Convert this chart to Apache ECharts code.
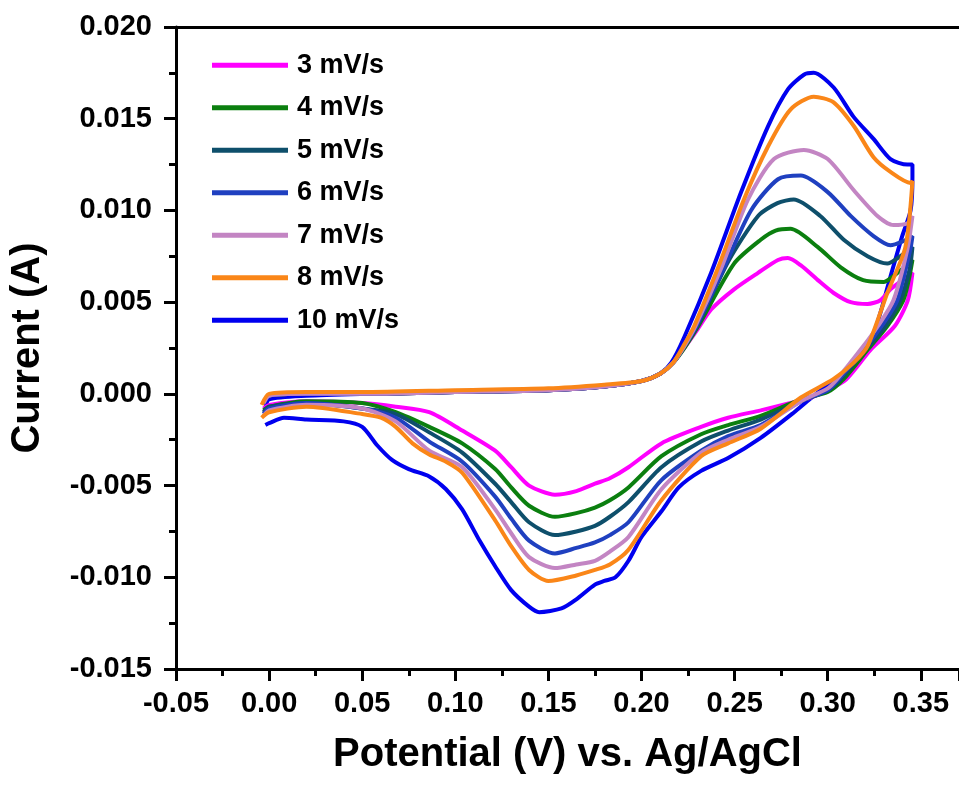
<!DOCTYPE html>
<html>
<head>
<meta charset="utf-8">
<script src="https://cdn.jsdelivr.net/npm/echarts@6/dist/echarts.min.js"></script>
<style>
html,body{margin:0;padding:0;background:#fff;}
#chart{width:959px;height:787px;}
</style>
</head>
<body>
<div id="chart"></div>
<script>
// Series names (legend order) and colours
const seriesNames = ['3 mV/s', '4 mV/s', '5 mV/s', '6 mV/s', '7 mV/s', '8 mV/s', '10 mV/s'];
const seriesColors = ['#ff00ff', '#0b7f0f', '#0e4f6b', '#1f40c0', '#c385c3', '#fa8618', '#0000ef'];

// Axis ticks
const xTicks = { min: -0.05, max: 0.3705, interval: 0.05 };
const yTicks = { min: -0.015, max: 0.020, interval: 0.005 };

// [potential (V), current (A)] – forward scan then reverse scan
const cv3 = [
  [-0.003,-0.0005],[0.0,-0.0001],[0.02,0.0],[0.05,0.0],[0.10,0.0001],[0.15,0.0002],[0.18,0.0004],[0.20,0.0007],[0.21,0.0011],[0.217,0.0017],[0.223,0.0025],[0.230,0.0035],[0.2374,0.0046],[0.2497,0.0057],[0.2626,0.0066],[0.2733,0.0073],[0.2786,0.0074],[0.2856,0.0070],[0.2947,0.0062],[0.3032,0.0055],[0.3123,0.0050],[0.3214,0.0049],[0.3283,0.0051],[0.3337,0.0057],[0.340,0.0062],[0.3455,0.0066],
  [0.343,0.0051],[0.336,0.0037],[0.323,0.0024],[0.31,0.0008],[0.30,0.0002],[0.291,-0.0002],[0.28,-0.0005],[0.264,-0.0009],[0.2465,-0.0013],[0.232,-0.0018],[0.2107,-0.0027],[0.193,-0.0040],[0.183,-0.0046],[0.175,-0.0049],[0.165,-0.0053],[0.1535,-0.0055],[0.1396,-0.0050],[0.13,-0.0040],[0.1214,-0.0031],[0.1037,-0.0020],[0.086,-0.0010],[0.068,-0.0007],[0.05,-0.0005],[0.02,-0.0004],[0.0,-0.0006],[-0.003,-0.0008]
];
const cv4 = [
  [-0.003,-0.0005],[0.0,-0.0001],[0.02,0.0],[0.05,0.0],[0.10,0.0001],[0.15,0.0002],[0.18,0.0004],[0.20,0.0007],[0.21,0.0011],[0.217,0.0017],[0.223,0.0025],[0.2305,0.0037],[0.2497,0.0071],[0.264,0.0084],[0.272,0.0089],[0.280,0.0090],[0.2947,0.0080],[0.307,0.0069],[0.319,0.0062],[0.330,0.0061],[0.335,0.0064],[0.341,0.0069],[0.3455,0.0073],
  [0.3435,0.0062],[0.3406,0.0051],[0.332,0.0037],[0.3214,0.0024],[0.3085,0.0008],[0.30,0.0001],[0.2856,-0.0003],[0.264,-0.0012],[0.2465,-0.0017],[0.232,-0.0022],[0.2107,-0.0034],[0.193,-0.0051],[0.183,-0.0058],[0.175,-0.0062],[0.165,-0.0065],[0.1535,-0.0067],[0.1396,-0.0061],[0.13,-0.0051],[0.1214,-0.0041],[0.1037,-0.0027],[0.086,-0.0018],[0.068,-0.0010],[0.05,-0.0005],[0.02,-0.0004],[0.0,-0.0007],[-0.003,-0.0009]
];
const cv5 = [
  [-0.003,-0.0005],[0.0,-0.0001],[0.02,0.0],[0.05,0.0],[0.10,0.0001],[0.15,0.0002],[0.18,0.0004],[0.20,0.0007],[0.21,0.0011],[0.217,0.0017],[0.223,0.0026],[0.230,0.0037],[0.2465,0.0072],[0.2626,0.0097],[0.273,0.0104],[0.2818,0.0106],[0.296,0.0097],[0.3086,0.0084],[0.3214,0.0075],[0.332,0.0071],[0.339,0.0075],[0.3455,0.0080],
  [0.344,0.0068],[0.339,0.0051],[0.331,0.0037],[0.3203,0.0024],[0.307,0.0008],[0.30,0.0002],[0.2856,-0.0004],[0.264,-0.0014],[0.2465,-0.0020],[0.232,-0.0026],[0.2107,-0.0040],[0.193,-0.0059],[0.183,-0.0067],[0.175,-0.0072],[0.165,-0.0075],[0.1535,-0.0077],[0.1396,-0.0070],[0.13,-0.0059],[0.1214,-0.0049],[0.1037,-0.0032],[0.086,-0.0021],[0.068,-0.0011],[0.05,-0.0008],[0.02,-0.0005],[0.0,-0.0007],[-0.003,-0.0010]
];
const cv6 = [
  [-0.003,-0.0005],[0.0,-0.0001],[0.02,0.0],[0.05,0.0],[0.10,0.0001],[0.15,0.0002],[0.18,0.0004],[0.20,0.0007],[0.21,0.0011],[0.217,0.0017],[0.223,0.0026],[0.2295,0.0037],[0.2444,0.0069],[0.2588,0.0100],[0.2733,0.0117],[0.2856,0.0119],[0.30,0.0110],[0.3123,0.0097],[0.3246,0.0086],[0.3337,0.0081],[0.340,0.0083],[0.3455,0.0086],
  [0.3444,0.0079],[0.3374,0.0051],[0.329,0.0037],[0.3193,0.0024],[0.306,0.0008],[0.30,0.0002],[0.2856,-0.0004],[0.264,-0.0017],[0.2465,-0.0023],[0.232,-0.0031],[0.2107,-0.0047],[0.193,-0.0070],[0.183,-0.0077],[0.175,-0.0081],[0.165,-0.0084],[0.1535,-0.0087],[0.1396,-0.0080],[0.13,-0.0068],[0.1214,-0.0056],[0.1037,-0.0037],[0.086,-0.0026],[0.068,-0.0013],[0.05,-0.0008],[0.02,-0.0005],[0.0,-0.0008],[-0.003,-0.0011]
];
const cv7 = [
  [-0.003,-0.0005],[0.0,-0.0001],[0.02,0.0],[0.05,0.0],[0.10,0.0001],[0.15,0.0002],[0.18,0.0004],[0.20,0.0007],[0.21,0.0011],[0.217,0.0017],[0.223,0.0026],[0.229,0.0037],[0.243,0.0069],[0.2572,0.0106],[0.2711,0.0128],[0.2872,0.0133],[0.30,0.0128],[0.314,0.0111],[0.3267,0.0097],[0.3353,0.0092],[0.3428,0.0093],[0.3455,0.0097],
  [0.3428,0.0079],[0.3353,0.0051],[0.327,0.0037],[0.3176,0.0024],[0.305,0.0008],[0.30,0.0003],[0.2856,-0.0004],[0.264,-0.0018],[0.2465,-0.0025],[0.232,-0.0032],[0.2107,-0.0052],[0.193,-0.0078],[0.183,-0.0086],[0.175,-0.0091],[0.165,-0.0093],[0.1535,-0.0095],[0.1396,-0.0089],[0.13,-0.0076],[0.1214,-0.0063],[0.1037,-0.0040],[0.086,-0.0031],[0.068,-0.0015],[0.05,-0.0008],[0.02,-0.0006],[0.0,-0.0009],[-0.003,-0.0012]
];
const cv8 = [
  [-0.004,-0.0006],[0.0,0.0],[0.02,0.0001],[0.05,0.0001],[0.10,0.0002],[0.15,0.0003],[0.18,0.0005],[0.20,0.0007],[0.21,0.0011],[0.217,0.0017],[0.223,0.0027],[0.2283,0.0037],[0.2412,0.0069],[0.255,0.0106],[0.268,0.0135],[0.280,0.0155],[0.2925,0.0162],[0.303,0.0159],[0.314,0.0146],[0.3246,0.0129],[0.3337,0.0121],[0.3444,0.0115],[0.3455,0.0116],
  [0.3417,0.0080],[0.332,0.0055],[0.3214,0.0026],[0.314,0.0017],[0.303,0.0008],[0.2856,-0.0002],[0.264,-0.0019],[0.2465,-0.0027],[0.232,-0.0034],[0.2107,-0.0058],[0.193,-0.0085],[0.183,-0.0093],[0.175,-0.0096],[0.165,-0.0099],[0.15,-0.0102],[0.1396,-0.0096],[0.13,-0.0083],[0.1214,-0.0069],[0.1037,-0.0043],[0.095,-0.0037],[0.086,-0.0033],[0.077,-0.0027],[0.068,-0.0018],[0.06,-0.0013],[0.05,-0.0011],[0.02,-0.0007],[0.0,-0.0010],[-0.004,-0.0013]
];
const cv10 = [
  [-0.002,-0.0008],[0.0,-0.0003],[0.02,-0.0001],[0.05,0.0],[0.10,0.0001],[0.15,0.0002],[0.18,0.0004],[0.20,0.0007],[0.21,0.0011],[0.216,0.0017],[0.223,0.0031],[0.2374,0.0066],[0.2535,0.0110],[0.268,0.0146],[0.2786,0.0166],[0.2872,0.0174],[0.2925,0.0175],[0.3032,0.0167],[0.3139,0.0151],[0.3246,0.0139],[0.3337,0.0128],[0.3428,0.0125],[0.3455,0.0125],
  [0.3455,0.0118],[0.3445,0.0100],[0.340,0.0086],[0.3337,0.0064],[0.3246,0.0033],[0.3123,0.0015],[0.30,0.0005],[0.289,-0.0004],[0.282,-0.0010],[0.264,-0.0024],[0.2465,-0.0035],[0.232,-0.0042],[0.22,-0.0051],[0.2107,-0.0064],[0.20,-0.0078],[0.193,-0.0091],[0.186,-0.0100],[0.180,-0.0102],[0.175,-0.0104],[0.165,-0.0112],[0.157,-0.0117],[0.145,-0.0119],[0.1396,-0.0116],[0.13,-0.0107],[0.1214,-0.0094],[0.113,-0.0080],[0.1037,-0.0063],[0.095,-0.0052],[0.086,-0.0045],[0.075,-0.0041],[0.066,-0.0036],[0.058,-0.0028],[0.05,-0.0018],[0.04,-0.0015],[0.02,-0.0014],[0.008,-0.0013],[0.0,-0.0016],[-0.002,-0.0017]
];
const seriesData = [cv3, cv4, cv5, cv6, cv7, cv8, cv10];
// drawing order: 10 mV/s underneath, then 3..8
const drawOrder = [6, 0, 1, 2, 3, 4, 5];

const FONT = '"Liberation Sans", Arial, Helvetica, sans-serif';
const chart = echarts.init(document.getElementById('chart'), null, { renderer: 'canvas' });

const series = drawOrder.map((i, k) => ({
  name: seriesNames[i],
  type: 'line',
  data: seriesData[i],
  showSymbol: false,
  symbol: 'none',
  smooth: 0.25,
  lineStyle: { color: seriesColors[i], width: 4 },
  itemStyle: { color: seriesColors[i] },
  emphasis: { disabled: true },
  z: 2 + k,
  animation: false
}));

const option = {
  backgroundColor: '#ffffff',
  animation: false,
  grid: { left: 173, right: 0, top: 27, bottom: 118, containLabel: false },
  legend: {
    data: seriesNames,
    orient: 'vertical',
    left: 207,
    top: 46,
    padding: 5,
    itemWidth: 76,
    itemHeight: 5,
    itemGap: 14,
    icon: 'rect',
    textStyle: { fontFamily: FONT, fontWeight: 'bold', fontSize: 27, lineHeight: 28.5, color: '#000', padding: [0, 0, 0, 4] },
    selectedMode: false
  },
  xAxis: [{
    type: 'value',
    min: xTicks.min, max: xTicks.max, interval: xTicks.interval,
    name: 'Potential (V) vs. Ag/AgCl',
    nameLocation: 'middle',
    nameGap: 66,
    nameTextStyle: { fontFamily: FONT, fontWeight: 'bold', fontSize: 40, color: '#000' },
    axisLine: { show: true, onZero: false, lineStyle: { color: '#000', width: 3 } },
    axisTick: { show: true, length: 12, lineStyle: { color: '#000', width: 3 } },
    minorTick: { show: true, splitNumber: 2, length: 7, lineStyle: { color: '#000', width: 3 } },
    splitLine: { show: false },
    axisLabel: {
      margin: 20, fontFamily: FONT, fontWeight: 'bold', fontSize: 29, color: '#000',
      showMaxLabel: false,
      formatter: v => v.toFixed(2)
    }
  }, {
    type: 'value', position: 'top',
    min: xTicks.min, max: xTicks.max,
    axisLine: { show: true, onZero: false, lineStyle: { color: '#000', width: 3 } },
    axisTick: { show: false }, axisLabel: { show: false }, splitLine: { show: false }
  }],
  yAxis: {
    type: 'value',
    min: yTicks.min, max: yTicks.max, interval: yTicks.interval,
    name: 'Current (A)',
    nameLocation: 'middle',
    nameGap: 128,
    nameTextStyle: { fontFamily: FONT, fontWeight: 'bold', fontSize: 40, color: '#000' },
    axisLine: { show: true, onZero: false, lineStyle: { color: '#000', width: 3 } },
    axisTick: { show: true, length: 12, lineStyle: { color: '#000', width: 3 } },
    minorTick: { show: true, splitNumber: 2, length: 7, lineStyle: { color: '#000', width: 3 } },
    splitLine: { show: false },
    axisLabel: {
      margin: 24, fontFamily: FONT, fontWeight: 'bold', fontSize: 29, color: '#000',
      formatter: v => v.toFixed(3)
    }
  },
  series: series
};
chart.setOption(option);
</script>
</body>
</html>
